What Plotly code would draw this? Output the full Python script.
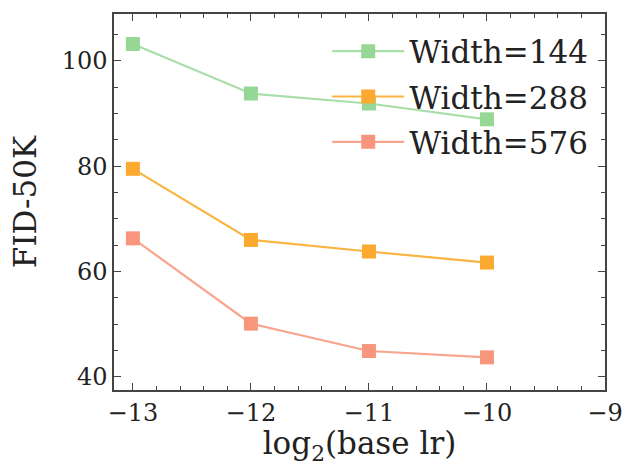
import plotly.graph_objects as go

x_vals = [-13, -12, -11, -10]
fid_144 = [103.2, 93.8, 91.9, 88.9]
fid_288 = [79.5, 66.0, 63.8, 61.7]
fid_576 = [66.3, 50.1, 44.9, 43.7]
names = ["Width=144", "Width=288", "Width=576"]
line_colors = ["#a9dea9", "#f9b441", "#f9a48c"]
marker_colors = ["#96d796", "#fba92f", "#f8967d"]

FONT = "DejaVu Serif"

fig = go.Figure()
for ys, nm, lc, mc in zip([fid_144, fid_288, fid_576], names, line_colors, marker_colors):
    fig.add_trace(go.Scatter(
        x=x_vals, y=ys, name=nm, legendgroup=nm, mode="lines+markers",
        line=dict(color=lc, width=2.2),
        marker=dict(symbol="square", size=14, color=mc, line=dict(width=0)),
    ))

axis_common = dict(
    showgrid=False, zeroline=False, showline=True, linecolor="#444", linewidth=1.5,
    mirror="allticks", ticks="inside", ticklen=7, tickwidth=1.2, tickcolor="#444",
    tickfont=dict(family=FONT, size=24, color="#222"),
)

fig.update_xaxes(
    range=[-13.16, -9.0], tickmode="array", tickvals=[-13, -12, -11, -10, -9],
    ticktext=["\u221213", "\u221212", "\u221211", "\u221210", "\u22129"],
    minor=dict(ticks="inside", ticklen=4, tickcolor="#444", dtick=0.2, tick0=-13),
    title=dict(text="log<sub>2</sub>(base lr)", font=dict(family=FONT, size=31, color="#222"), standoff=2),
    **axis_common,
)
fig.update_yaxes(
    range=[37.5, 108.9], tickmode="array", tickvals=[40, 60, 80, 100],
    minor=dict(ticks="inside", ticklen=4, tickcolor="#444", dtick=5, tick0=40),
    title=dict(text="FID-50K", font=dict(family=FONT, size=31, color="#222"), standoff=16),
    **axis_common,
)

fig.update_layout(
    width=635, height=466,
    margin=dict(l=114, r=18, t=14, b=76),
    plot_bgcolor="white", paper_bgcolor="white",
    font=dict(family=FONT),
    legend=dict(
        x=0.976, y=0.972, xanchor="right", yanchor="top",
        bgcolor="rgba(0,0,0,0)", borderwidth=0,
        font=dict(family=FONT, size=31, color="#222"),
        itemwidth=72, traceorder="grouped", tracegroupgap=2,
    ),
)

fig.write_html("out.html")
